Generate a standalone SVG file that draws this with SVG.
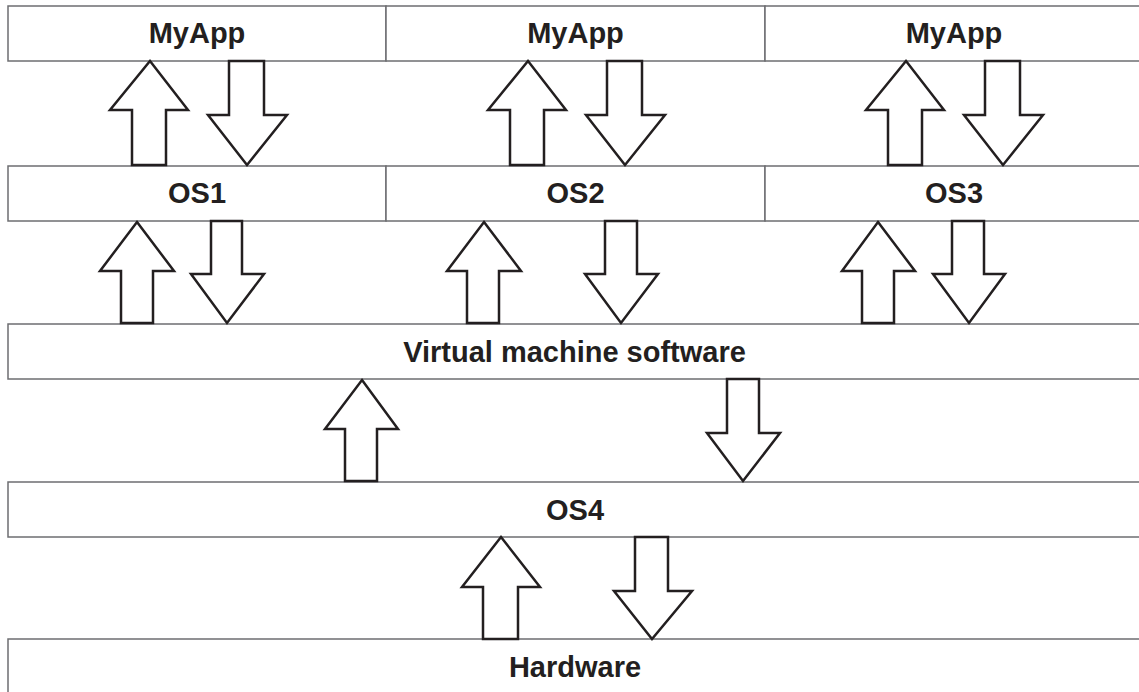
<svg xmlns="http://www.w3.org/2000/svg" width="1139" height="692" viewBox="0 0 1139 692">
<style>
.box{fill:#fff;stroke:#6d6e71;stroke-width:1.5}
.lbl{font-family:"Liberation Sans",Arial,Helvetica,sans-serif;font-weight:bold;font-size:29px;fill:#231f20;text-anchor:middle}
.arr{fill:#fff;stroke:#231f20;stroke-width:2.5;stroke-linejoin:miter}
</style>
<rect width="1139" height="692" fill="#fff"/>
<g id="myapp1"><rect class="box" x="8" y="6" width="378" height="55"/><text class="lbl" x="197" y="43">MyApp</text></g>
<g id="myapp2"><rect class="box" x="386" y="6" width="379" height="55"/><text class="lbl" x="575.5" y="43">MyApp</text></g>
<g id="myapp3"><rect class="box" x="765" y="6" width="380" height="55"/><text class="lbl" x="954" y="43">MyApp</text></g>
<g id="os1"><rect class="box" x="8" y="166" width="378" height="55"/><text class="lbl" x="197" y="202.5">OS1</text></g>
<g id="os2"><rect class="box" x="386" y="166" width="379" height="55"/><text class="lbl" x="575.5" y="202.5">OS2</text></g>
<g id="os3"><rect class="box" x="765" y="166" width="380" height="55"/><text class="lbl" x="954" y="202.5">OS3</text></g>
<g id="vm"><rect class="box" x="8" y="324" width="1137" height="55"/><text class="lbl" x="574.5" y="362">Virtual machine software</text></g>
<g id="os4"><rect class="box" x="8" y="482" width="1137" height="55"/><text class="lbl" x="575" y="519.5">OS4</text></g>
<g id="hardware"><rect class="box" x="8" y="639" width="1137" height="60"/><text class="lbl" x="575" y="677">Hardware</text></g>
<g id="connectors">
<polygon class="arr" points="150,61 188,110 166,110 166,165 132,165 132,110 110,110"/>
<polygon class="arr" points="229,61 264,61 264,115 287,115 247,165 208,115 229,115"/>
<polygon class="arr" points="528,61 566,110 544,110 544,165 510,165 510,110 488,110"/>
<polygon class="arr" points="607,61 642,61 642,115 665,115 625,165 586,115 607,115"/>
<polygon class="arr" points="906,61 944,110 922,110 922,165 888,165 888,110 866,110"/>
<polygon class="arr" points="985,61 1020,61 1020,115 1043,115 1003,165 964,115 985,115"/>
<polygon class="arr" points="137,222 174,271 153,271 153,323 121,323 121,271 100,271"/>
<polygon class="arr" points="211,221 242,221 242,274 264,274 227,323 191,274 211,274"/>
<polygon class="arr" points="484,222 521,271 499,271 499,323 467,323 467,271 447,271"/>
<polygon class="arr" points="605,221 637,221 637,274 658,274 621,323 585,274 605,274"/>
<polygon class="arr" points="878,222 915,271 894,271 894,323 862,323 862,271 842,271"/>
<polygon class="arr" points="952,221 984,221 984,274 1005,274 969,323 933,274 952,274"/>
<polygon class="arr" points="362,380 398,429 377,429 377,481 345,481 345,429 325,429"/>
<polygon class="arr" points="727,379 759,379 759,433 780,433 743,481 707,433 727,433"/>
<polygon class="arr" points="501,537 540,587 518,587 518,639 483,639 483,587 462,587"/>
<polygon class="arr" points="635,537 668,537 668,591 692,591 652,639 614,591 635,591"/>
</g>
</svg>
